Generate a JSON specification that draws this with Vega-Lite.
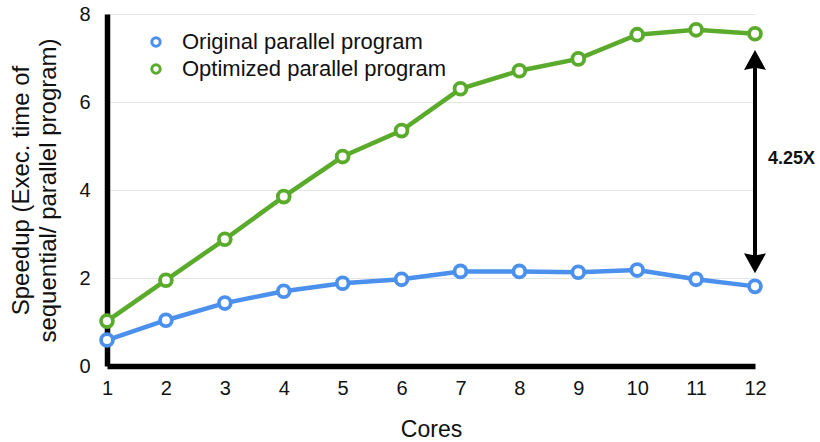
{
  "$schema": "https://vega.github.io/schema/vega-lite/v6.json",
  "width": 648,
  "height": 352,
  "autosize": {"type": "none"},
  "padding": {"left": 107, "top": 14, "right": 65, "bottom": 76},
  "background": "white",
  "config": {
    "view": {"stroke": null},
    "font": "Liberation Sans"
  },
  "datasets": {
    "speedup": [
      {"cores": 1, "series": "Original parallel program", "speedup": 0.59},
      {"cores": 2, "series": "Original parallel program", "speedup": 1.04},
      {"cores": 3, "series": "Original parallel program", "speedup": 1.43},
      {"cores": 4, "series": "Original parallel program", "speedup": 1.70},
      {"cores": 5, "series": "Original parallel program", "speedup": 1.88},
      {"cores": 6, "series": "Original parallel program", "speedup": 1.97},
      {"cores": 7, "series": "Original parallel program", "speedup": 2.15},
      {"cores": 8, "series": "Original parallel program", "speedup": 2.15},
      {"cores": 9, "series": "Original parallel program", "speedup": 2.13},
      {"cores": 10, "series": "Original parallel program", "speedup": 2.18},
      {"cores": 11, "series": "Original parallel program", "speedup": 1.97},
      {"cores": 12, "series": "Original parallel program", "speedup": 1.81},
      {"cores": 1, "series": "Optimized parallel program", "speedup": 1.02},
      {"cores": 2, "series": "Optimized parallel program", "speedup": 1.95},
      {"cores": 3, "series": "Optimized parallel program", "speedup": 2.88},
      {"cores": 4, "series": "Optimized parallel program", "speedup": 3.85},
      {"cores": 5, "series": "Optimized parallel program", "speedup": 4.76},
      {"cores": 6, "series": "Optimized parallel program", "speedup": 5.35},
      {"cores": 7, "series": "Optimized parallel program", "speedup": 6.30},
      {"cores": 8, "series": "Optimized parallel program", "speedup": 6.71},
      {"cores": 9, "series": "Optimized parallel program", "speedup": 6.98},
      {"cores": 10, "series": "Optimized parallel program", "speedup": 7.53},
      {"cores": 11, "series": "Optimized parallel program", "speedup": 7.64},
      {"cores": 12, "series": "Optimized parallel program", "speedup": 7.55}
    ],
    "arrow": [
      {"cores": 12, "top": 6.95, "bottom": 2.35}
    ],
    "heads": [
      {"cores": 12, "y": 6.93, "dir": "up"},
      {"cores": 12, "y": 2.36, "dir": "down"}
    ],
    "label": [
      {"cores": 12, "y": 4.7, "text": "4.25X"}
    ]
  },
  "layer": [
    {
      "data": {"name": "speedup"},
      "mark": {"type": "line", "strokeWidth": 4.5},
      "encoding": {
        "x": {
          "field": "cores", "type": "quantitative",
          "scale": {"domain": [1, 12], "nice": false, "zero": false},
          "axis": {
            "values": [1,2,3,4,5,6,7,8,9,10,11,12], "format": "d", "grid": false, "labelFlush": false,
            "title": "Cores", "titlePadding": 20, "labelPadding": 12,
            "domainColor": "black", "domainWidth": 5.5, "ticks": false,
            "labelFont": "Liberation Sans", "labelFontSize": 20, "labelColor": "#111",
            "titleFont": "Liberation Sans", "titleFontWeight": "normal", "titleFontSize": 23, "titleColor": "#111"
          }
        },
        "y": {
          "field": "speedup", "type": "quantitative",
          "scale": {"domain": [0, 8], "nice": false},
          "axis": {
            "values": [0,2,4,6,8], "grid": true, "gridColor": "#e4e4e4", "gridWidth": 1, "labelFlush": false,
            "title": ["Speedup (Exec. time of", "sequential/ parallel program)"], "titlePadding": 18, "labelPadding": 17,
            "domainColor": "black", "domainWidth": 5.5, "ticks": false,
            "labelFont": "Liberation Sans", "labelFontSize": 20, "labelColor": "#111",
            "titleFont": "Liberation Sans", "titleFontWeight": "normal", "titleFontSize": 24, "titleColor": "#111", "titleLineHeight": 27
          }
        },
        "color": {
          "field": "series", "type": "nominal",
          "scale": {"domain": ["Original parallel program", "Optimized parallel program"], "range": ["#4a90ec", "#5aab2c"]},
          "legend": {
            "orient": "none", "legendX": 38, "legendY": 17, "title": null,
            "symbolType": "circle", "symbolFillColor": "white", "symbolStrokeWidth": 3, "symbolSize": 70,
            "labelFontSize": 22, "labelColor": "#111", "labelFont": "Liberation Sans", "labelLimit": 400,
            "rowPadding": 5, "labelOffset": 15
          }
        }
      }
    },
    {
      "data": {"name": "speedup"},
      "mark": {"type": "point", "filled": false, "fill": "white", "fillOpacity": 1, "opacity": 1, "size": 140, "strokeWidth": 3.8},
      "encoding": {
        "x": {"field": "cores", "type": "quantitative"},
        "y": {"field": "speedup", "type": "quantitative"},
        "color": {"field": "series", "type": "nominal"}
      }
    },
    {
      "data": {"name": "arrow"},
      "mark": {"type": "rule", "color": "black", "strokeWidth": 4},
      "encoding": {
        "x": {"field": "cores", "type": "quantitative"},
        "y": {"field": "top", "type": "quantitative"},
        "y2": {"field": "bottom"}
      }
    },
    {
      "data": {"name": "heads"},
      "mark": {"type": "point", "filled": true, "color": "black", "size": 484, "opacity": 1},
      "encoding": {
        "x": {"field": "cores", "type": "quantitative"},
        "y": {"field": "y", "type": "quantitative"},
        "shape": {
          "field": "dir", "type": "nominal",
          "scale": {"domain": ["up", "down"], "range": ["M0,-1L1,0.8L0,0.6L-1,0.8Z", "M0,1L1,-0.8L0,-0.6L-1,-0.8Z"]},
          "legend": null
        }
      }
    },
    {
      "data": {"name": "label"},
      "mark": {"type": "text", "align": "left", "baseline": "middle", "dx": 13, "fontWeight": "bold", "fontSize": 18, "color": "#111", "font": "Liberation Sans"},
      "encoding": {
        "x": {"field": "cores", "type": "quantitative"},
        "y": {"field": "y", "type": "quantitative"},
        "text": {"field": "text"}
      }
    }
  ]
}
